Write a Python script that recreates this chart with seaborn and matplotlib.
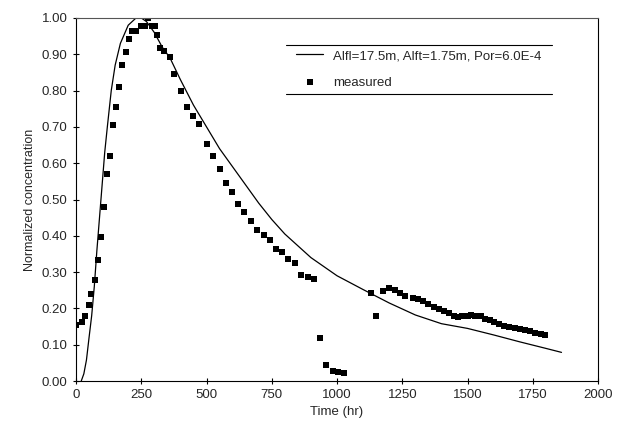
import matplotlib
matplotlib.use("Agg")
import matplotlib.pyplot as plt
import numpy as np
import pandas as pd
import seaborn as sns
from matplotlib.lines import Line2D

# measured breakthrough data
meas_time = [0, 23, 35, 50, 58, 73, 85, 95, 106, 119, 131, 142, 154, 166, 177, 191,
             204, 215, 230, 250, 265, 277, 292, 304, 312, 323, 338, 361, 377, 404,
             426, 450, 473, 500, 523, 550, 573, 596, 619, 642, 669, 692, 719, 742,
             765, 788, 812, 838, 862, 888, 912, 935, 958, 983, 1004, 1027,
             1131, 1150, 1177, 1200, 1223, 1243, 1262, 1290, 1310, 1330, 1350, 1370,
             1390, 1410, 1430, 1450, 1465, 1480, 1500, 1515, 1530, 1550, 1565, 1585,
             1600, 1620, 1640, 1660, 1680, 1700, 1720, 1740, 1760, 1780, 1795]
meas_conc = [0.154, 0.163, 0.18, 0.21, 0.24, 0.278, 0.333, 0.397, 0.48, 0.57, 0.62,
             0.705, 0.755, 0.81, 0.87, 0.905, 0.942, 0.964, 0.964, 0.978, 0.978, 1.0,
             0.978, 0.978, 0.953, 0.917, 0.908, 0.893, 0.846, 0.80, 0.755, 0.73, 0.708,
             0.653, 0.62, 0.584, 0.546, 0.52, 0.488, 0.466, 0.44, 0.417, 0.402, 0.388,
             0.364, 0.355, 0.336, 0.325, 0.292, 0.287, 0.281, 0.118, 0.044, 0.028,
             0.025, 0.022,
             0.242, 0.18, 0.248, 0.256, 0.251, 0.242, 0.234, 0.229, 0.226, 0.22,
             0.212, 0.205, 0.199, 0.193, 0.187, 0.18, 0.176, 0.178, 0.18, 0.181, 0.18,
             0.178, 0.172, 0.168, 0.163, 0.157, 0.152, 0.148, 0.146, 0.144, 0.141,
             0.137, 0.133, 0.13, 0.128]

# model curve
model_time = [20, 30, 40, 50, 60, 70, 80, 90, 100, 110, 120, 135, 150, 170, 200, 230,
              250, 270, 300, 330, 360, 400, 450, 500, 550, 600, 650, 700, 750, 800,
              900, 1000, 1100, 1200, 1300, 1400, 1500, 1600, 1700, 1800, 1860]
model_conc = [0.0, 0.02, 0.058, 0.12, 0.18, 0.26, 0.36, 0.45, 0.54, 0.63, 0.70, 0.80,
              0.87, 0.93, 0.98, 1.0, 1.0, 0.99, 0.96, 0.92, 0.89, 0.83, 0.76, 0.70,
              0.64, 0.59, 0.54, 0.49, 0.445, 0.405, 0.34, 0.29, 0.252, 0.215, 0.182,
              0.158, 0.145, 0.127, 0.108, 0.09, 0.079]

model_label = "Alfl=17.5m, Alft=1.75m, Por=6.0E-4"
meas_label = "measured"

sns.set_style("white")
plt.rcParams['font.family'] = ['Liberation Sans', 'DejaVu Sans']

fig = plt.figure(figsize=(6.2, 4.38), dpi=100)
ax = fig.add_axes([0.1226, 0.130, 0.842, 0.829])

model_df = pd.DataFrame({"t": model_time, "c": model_conc})
meas_df = pd.DataFrame({"t": meas_time, "c": meas_conc})

sns.lineplot(data=model_df, x="t", y="c", ax=ax, color="black", linewidth=0.9,
             label=model_label)
sns.scatterplot(data=meas_df, x="t", y="c", ax=ax, color="black", marker="s",
                s=20, linewidth=0, label=meas_label)

ax.set_xlim(0, 2000)
ax.set_ylim(0, 1.0)
ax.set_xticks(np.arange(0, 2001, 250))
ax.set_yticks(np.arange(0, 1.01, 0.1))
ax.set_yticklabels([f"{v:.2f}" for v in np.arange(0, 1.01, 0.1)])
ax.tick_params(axis="both", labelsize=9.5, length=5, width=0.8, color="black",
               left=True, bottom=True)
ax.tick_params(axis="y", direction="inout")
ax.tick_params(axis="x", direction="inout", length=4)
for side in ["left", "bottom", "top", "right"]:
    ax.spines[side].set_color("black")
    ax.spines[side].set_linewidth(0.8)
ax.spines["top"].set_color("#555555")

ax.set_xlabel("Time (hr)", fontsize=9.5)
ax.set_ylabel("Normalized concentration", fontsize=9)

leg = ax.legend(loc="upper right", bbox_to_anchor=(0.915, 0.945), frameon=False,
                fontsize=9.5, handlelength=2.0, labelspacing=1.1)

# legend box drawn with top and bottom rules only
fig.canvas.draw()
bb = leg.get_window_extent().transformed(ax.transAxes.inverted())
for yy in [bb.y0, bb.y1]:
    ax.add_line(Line2D([bb.x0 - 0.01, bb.x1 + 0.01], [yy, yy], transform=ax.transAxes,
                       color="black", linewidth=0.8, clip_on=False))

fig.savefig("out.png", dpi=100)
